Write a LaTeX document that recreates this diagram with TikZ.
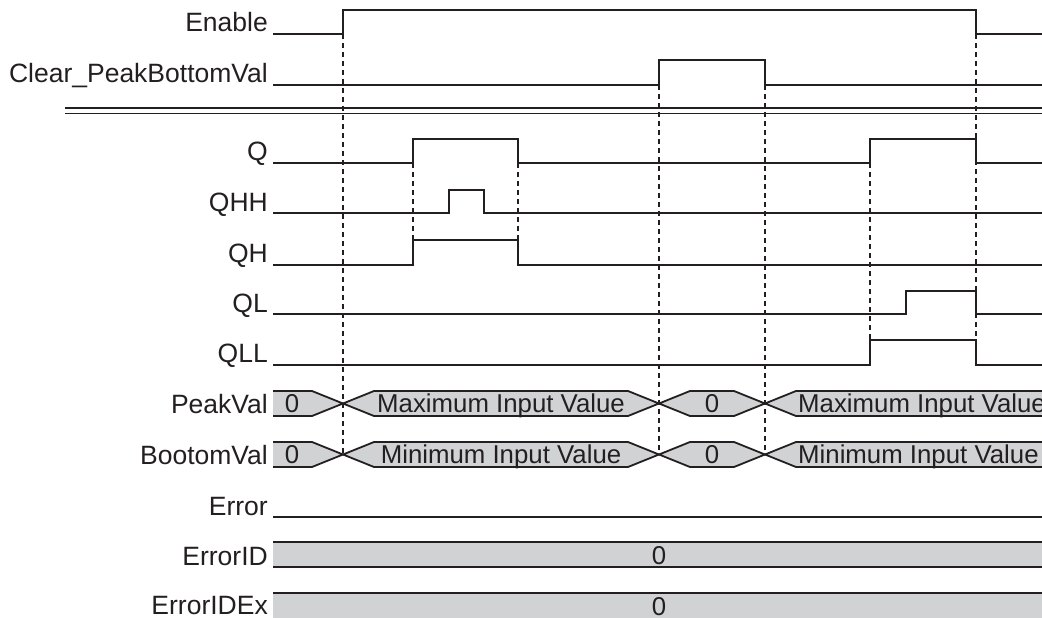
\documentclass[tikz,border=0pt]{standalone}
\usepackage{fontspec}
\setmainfont{Liberation Sans}
\definecolor{ink}{HTML}{231F20}
\definecolor{band}{HTML}{D1D2D4}
\begin{document}
\begin{tikzpicture}[x=1pt,y=-1pt,
  sig/.style={draw=ink,line width=1.8pt,line join=miter},
  guide/.style={draw=ink,line width=1.1pt,dash pattern=on 5pt off 4pt},
  lbl/.style={anchor=base east,inner sep=0pt,text=ink,font=\fontsize{26.5}{30}\selectfont},
  val/.style={anchor=base,inner sep=0pt,text=ink,font=\fontsize{25.8}{30}\selectfont}]
\useasboundingbox (0,0) rectangle (1042,618);
% labels
\node[lbl] (lEnable) at (268,32) {Enable};
\node[lbl] (lClear) at (268,83) {Clear\_PeakBottomVal};
\node[lbl] (lQ) at (268,160) {Q};
\node[lbl] (lQHH) at (268,211) {QHH};
\node[lbl] (lQH) at (268,262) {QH};
\node[lbl] (lQL) at (268,312) {QL};
\node[lbl] (lQLL) at (268,362) {QLL};
\node[lbl] (lPeak) at (268,413) {PeakVal};
\node[lbl] (lBot) at (268,464) {BootomVal};
\node[lbl] (lErr) at (268,515) {Error};
\node[lbl] (lErrID) at (268,565) {ErrorID};
\node[lbl] (lErrIDEx) at (268,614) {ErrorIDEx};
% separator
\draw[ink,line width=1.2pt] (65,108) -- (1042,108);
\draw[ink,line width=1.2pt] (65,113.5) -- (1042,113.5);
% dashed guides
\draw[guide] (343,34) -- (343,455);
\draw[guide] (413,163) -- (413,240);
\draw[guide] (518,163) -- (518,240);
\draw[guide] (659,85) -- (659,455);
\draw[guide] (765,85) -- (765,455);
\draw[guide] (870,163) -- (870,340);
\draw[guide] (976,34) -- (976,365);
% waveforms
\draw[sig] (273,34) -- (343,34) -- (343,10) -- (976,10) -- (976,34) -- (1042,34);
\draw[sig] (273,85) -- (659,85) -- (659,60) -- (765,60) -- (765,85) -- (1042,85);
\draw[sig] (273,163) -- (413,163) -- (413,139) -- (518,139) -- (518,163) -- (870,163) -- (870,139) -- (976,139) -- (976,163) -- (1042,163);
\draw[sig] (273,213) -- (449,213) -- (449,190) -- (484,190) -- (484,213) -- (1042,213);
\draw[sig] (273,265) -- (413,265) -- (413,240) -- (518,240) -- (518,265) -- (1042,265);
\draw[sig] (273,314) -- (906,314) -- (906,291) -- (976,291) -- (976,314) -- (1042,314);
\draw[sig] (273,365) -- (870,365) -- (870,340) -- (976,340) -- (976,365) -- (1042,365);
% bus rows
\foreach \c/\t in {403.5/Maximum Input Value, 454.5/Minimum Input Value}{
  \pgfmathsetmacro{\tp}{\c-12.5}
  \pgfmathsetmacro{\bt}{\c+12.5}
  \pgfmathsetmacro{\bl}{\c+9}
  \fill[band] (273,\tp) -- (312,\tp) -- (343,\c) -- (312,\bt) -- (273,\bt) -- cycle;
  \draw[sig] (273,\tp) -- (312,\tp) -- (343,\c) -- (312,\bt) -- (273,\bt);
  \draw[sig,fill=band] (343,\c) -- (374,\tp) -- (628,\tp) -- (659,\c) -- (628,\bt) -- (374,\bt) -- cycle;
  \draw[sig,fill=band] (659,\c) -- (690,\tp) -- (734,\tp) -- (765,\c) -- (734,\bt) -- (690,\bt) -- cycle;
  \fill[band] (765,\c) -- (796,\tp) -- (1042,\tp) -- (1042,\bt) -- (796,\bt) -- cycle;
  \draw[sig] (1042,\tp) -- (796,\tp) -- (765,\c) -- (796,\bt) -- (1042,\bt);
  \node[val] at (292,\bl) {0};
  \node[val] at (501,\bl) {\t};
  \node[val] at (712,\bl) {0};
  \node[val,anchor=base west] at (798,\bl) {\t};
}
% Error
\draw[sig] (273,517) -- (1042,517);
% ErrorID
\fill[band] (273,542) rectangle (1042,567);
\draw[sig] (273,542) -- (1042,542);
\draw[sig] (273,567) -- (1042,567);
\node[val] (vErrID) at (659,564) {0};
\fill[band] (273,593) rectangle (1042,618);
\draw[sig] (273,593) -- (1042,593);
\node[val] (vErrIDEx) at (659,615) {0};
\end{tikzpicture}
\end{document}
